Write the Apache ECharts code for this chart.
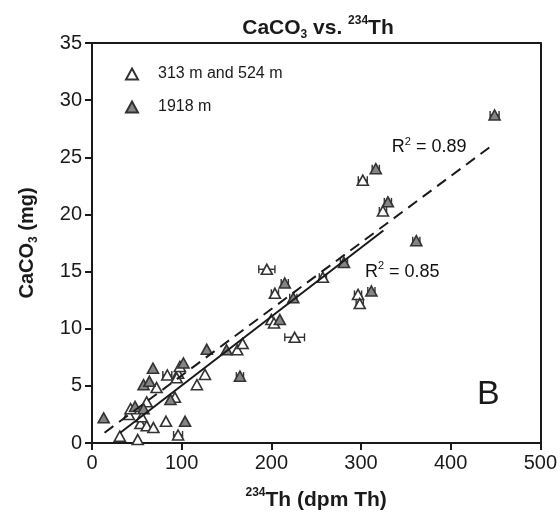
<!DOCTYPE html>
<html><head><meta charset="utf-8">
<script src="https://cdn.jsdelivr.net/npm/echarts@6/dist/echarts.min.js"></script>
<style>html,body{margin:0;padding:0;background:#fff}#c{width:560px;height:529px}</style>
</head><body><div id="c"></div>
<script>
// ---- data ----
const xTicks = [0, 100, 200, 300, 400, 500];
const yTicks = [0, 5, 10, 15, 20, 25, 30, 35];
const seriesNames = ['313 m and 524 m', '1918 m'];
// [234Th dpm, CaCO3 mg, horizontal error]
const shallow = [
  [31, 0.6, 0], [51, 0.3, 0], [96, 0.7, 5], [82.5, 1.9, 0], [54, 1.7, 0],
  [61, 1.5, 0], [68.5, 1.35, 0], [41, 2.5, 0], [43, 3.0, 0], [55.5, 2.3, 0],
  [61, 3.6, 0], [72, 4.85, 0], [92.5, 4.0, 0], [84, 5.95, 5], [96, 6.1, 0],
  [94.5, 5.7, 0], [98, 6.7, 0], [117, 5.1, 0], [126, 6.0, 0], [162, 8.15, 0],
  [168, 8.7, 0], [195, 15.2, 9], [204, 13.1, 4], [200, 10.8, 0], [203, 10.5, 0],
  [226, 9.25, 11], [257.5, 14.5, 4], [296.7, 13.0, 4], [298.6, 12.2, 4],
  [302, 23.0, 5], [324.5, 20.3, 4]
];
const deep = [
  [13, 2.2, 0], [68, 6.55, 0], [57.5, 5.1, 0], [64, 5.4, 0], [87.5, 3.8, 0],
  [103.8, 1.9, 0], [102, 7.0, 0], [48, 3.2, 0], [57.5, 3.0, 0], [128, 8.2, 0],
  [150, 8.15, 0], [165, 5.85, 4], [215, 14.0, 4], [224.5, 12.7, 4], [209.5, 10.8, 0],
  [281, 15.8, 4], [311.6, 13.3, 4], [316.5, 24.0, 4], [330, 21.1, 4],
  [361.7, 17.7, 4], [449, 28.7, 5]
];
const fitDashed = [[14, 0.9], [449, 26.2]];
const fitSolid = [[31.5, 0.9], [325, 18.6]];
const r2Labels = [[376, 25.9, '0.89'], [346, 15.0, '0.85']];

// ---- chart ----
const chart = echarts.init(document.getElementById('c'), null, {renderer: 'canvas'});
const FONT = 'Liberation Sans, Arial, sans-serif';
const ink = '#1a1a1a';
const triStroke = '#333333';

function errItem(params, api) {
  const x = api.value(0), y = api.value(1), e = api.value(2);
  if (!e) return null;
  const a = api.coord([x - e, y]);
  const b = api.coord([x + e, y]);
  const h = 4;
  const st = {stroke: triStroke, lineWidth: 1.4};
  return {type: 'group', children: [
    {type: 'line', shape: {x1: a[0], y1: a[1], x2: b[0], y2: b[1]}, style: st},
    {type: 'line', shape: {x1: a[0], y1: a[1] - h, x2: a[0], y2: a[1] + h}, style: st},
    {type: 'line', shape: {x1: b[0], y1: b[1] - h, x2: b[0], y2: b[1] + h}, style: st}
  ]};
}

const sup = {fontSize: 12, fontWeight: 'bold', fontFamily: FONT, verticalAlign: 'top', lineHeight: 13, color: ink};
const sub = {fontSize: 12, fontWeight: 'bold', fontFamily: FONT, verticalAlign: 'bottom', lineHeight: 13, color: ink};

const option = {
  backgroundColor: '#fff',
  animation: false,
  title: {
    text: 'CaCO{sub|3} vs. {sup|234}Th',
    left: 313, top: 10, textAlign: 'center',
    textStyle: {fontSize: 21, fontWeight: 'bold', fontFamily: FONT, color: ink, lineHeight: 26,
      rich: {sub: sub, sup: sup}}
  },
  grid: {left: 92, right: 19, top: 43, bottom: 86, containLabel: false},
  legend: {
    orient: 'vertical', left: 120, top: 61, itemGap: 17,
    itemWidth: 12, itemHeight: 11,
    data: seriesNames,
    textStyle: {fontSize: 16, fontFamily: FONT, color: ink, padding: [0, 0, 0, 15]}
  },
  xAxis: [{
    type: 'value', min: xTicks[0], max: xTicks[xTicks.length - 1], interval: 100,
    name: '{sup|234}Th (dpm Th)', nameLocation: 'middle', nameGap: 44,
    nameTextStyle: {fontSize: 21, fontWeight: 'bold', fontFamily: FONT, color: ink, lineHeight: 26,
      rich: {sup: sup}},
    axisLine: {show: true, onZero: false, lineStyle: {color: ink, width: 2}},
    axisTick: {show: true, inside: false, length: 7, lineStyle: {color: ink, width: 2}},
    axisLabel: {fontSize: 20, fontFamily: FONT, color: ink, margin: 10},
    splitLine: {show: false}
  }, {
    type: 'value', position: 'top', min: 0, max: 500,
    axisLine: {show: true, onZero: false, lineStyle: {color: ink, width: 2}},
    axisTick: {show: false}, axisLabel: {show: false}, splitLine: {show: false}
  }],
  yAxis: [{
    type: 'value', min: yTicks[0], max: yTicks[yTicks.length - 1], interval: 5,
    name: 'CaCO{sub|3} (mg)', nameLocation: 'middle', nameGap: 52, nameRotate: 90,
    nameTextStyle: {fontSize: 20, fontWeight: 'bold', fontFamily: FONT, color: ink, lineHeight: 26,
      rich: {sub: sub}},
    axisLine: {show: true, onZero: false, lineStyle: {color: ink, width: 2}},
    axisTick: {show: true, inside: false, length: 7, lineStyle: {color: ink, width: 2}},
    axisLabel: {fontSize: 20, fontFamily: FONT, color: ink, margin: 10},
    splitLine: {show: false}
  }, {
    type: 'value', position: 'right', min: 0, max: 35,
    axisLine: {show: true, onZero: false, lineStyle: {color: ink, width: 2}},
    axisTick: {show: false}, axisLabel: {show: false}, splitLine: {show: false}
  }],
  graphic: [{
    type: 'text', left: 477, top: 378,
    style: {text: 'B', fontSize: 34, fontFamily: FONT, fill: ink}
  }],
  series: [
    {type: 'custom', name: 'err1', renderItem: errItem, data: shallow, z: 2, silent: true},
    {type: 'custom', name: 'err2', renderItem: errItem, data: deep, z: 2, silent: true},
    {
      type: 'scatter', name: seriesNames[0], data: shallow.map(d => [d[0], d[1]]),
      symbol: 'triangle', symbolSize: [11, 10], z: 3,
      itemStyle: {color: '#ffffff', borderColor: triStroke, borderWidth: 1.6, opacity: 1}
    },
    {
      type: 'scatter', name: seriesNames[1], data: deep.map(d => [d[0], d[1]]),
      symbol: 'triangle', symbolSize: [11, 10], z: 3,
      itemStyle: {color: '#858585', borderColor: triStroke, borderWidth: 1.6, opacity: 1}
    },
    {
      type: 'line', name: 'fitDashed', data: fitDashed, symbol: 'none', z: 5, silent: true,
      lineStyle: {color: ink, width: 2, type: [11, 7]}
    },
    {
      type: 'line', name: 'fitSolid', data: fitSolid, symbol: 'none', z: 5, silent: true,
      lineStyle: {color: ink, width: 2, type: 'solid'}
    },
    {
      type: 'scatter', name: 'r2', data: r2Labels.map(d => ({value: [d[0], d[1]], name: d[2]})),
      symbolSize: 0, z: 6, silent: true, itemStyle: {color: ink, opacity: 1},
      label: {show: true, position: 'inside', formatter: p => 'R{s|2} = ' + p.name, opacity: 1,
        fontSize: 18, fontFamily: FONT, color: '#111111', textBorderWidth: 0, lineHeight: 22,
        rich: {s: {fontSize: 11, fontFamily: FONT, color: '#111111', verticalAlign: 'top', lineHeight: 12}}}
    }
  ]
};
chart.setOption(option);
</script>
</body></html>
